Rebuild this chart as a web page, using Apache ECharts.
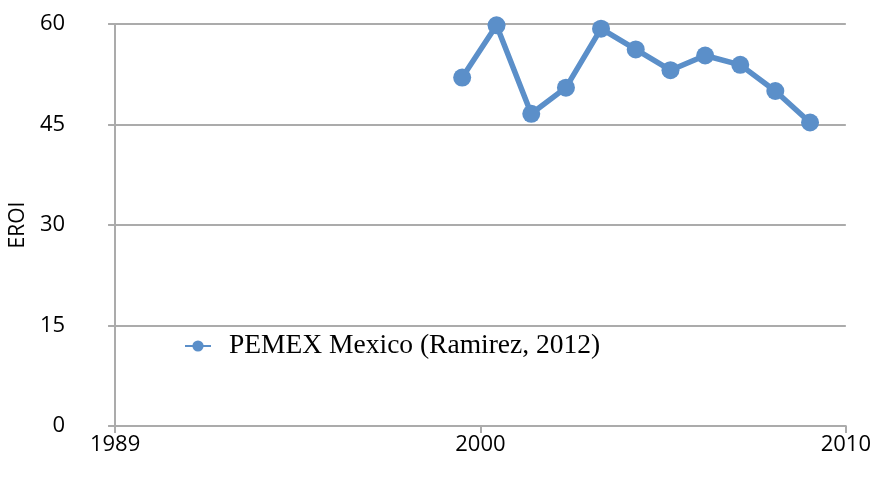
<!DOCTYPE html>
<html>
<head>
<meta charset="utf-8">
<script src="https://cdn.jsdelivr.net/npm/echarts@6/dist/echarts.min.js"></script>
<style>html,body{margin:0;padding:0;background:#fff}#c{width:874px;height:481px}</style>
</head>
<body>
<div id="c"></div>
<script>
// Data
const seriesName = "PEMEX Mexico (Ramirez, 2012)";
const years = [1999.5, 2000.44, 2001.39, 2002.34, 2003.3, 2004.25, 2005.2, 2006.15, 2007.11, 2008.07, 2009.02];
const eroi = [52.0, 59.8, 46.6, 50.5, 59.3, 56.2, 53.1, 55.3, 53.9, 50.0, 45.3];
const xTickLabels = ["1989", "2000", "2010"];
const yTicks = [0, 15, 30, 45, 60];

const chart = echarts.init(document.getElementById('c'), null, {renderer: 'canvas'});
const grey = '#ABABAB';
const sans = '"Open Sans", "Liberation Sans", sans-serif';
chart.setOption({
  animation: false,
  backgroundColor: '#fff',
  grid: {left: 113, right: 28, top: 24, bottom: 55, containLabel: false},
  legend: {
    left: 179, top: 327,
    itemWidth: 26, itemHeight: 14,
    data: [seriesName],
    textStyle: {fontFamily: '"Liberation Serif", serif', fontSize: 27.5, color: '#000', padding: [0, 0, 0, 13]}
  },
  xAxis: {
    type: 'value', min: 1990, max: 2010, interval: 10,
    axisLine: {show: true, lineStyle: {color: grey, width: 2}},
    axisTick: {show: true, length: 7, lineStyle: {color: grey, width: 2}},
    splitLine: {show: false},
    axisLabel: {
      margin: 8, fontSize: 22, color: '#000', fontFamily: sans,
      formatter: function (v) { return xTickLabels[Math.round((v - 1990) / 10)]; }
    }
  },
  yAxis: {
    type: 'value', min: yTicks[0], max: yTicks[yTicks.length - 1], interval: 15,
    name: 'EROI', nameLocation: 'middle', nameRotate: 90, nameGap: 84,
    nameTextStyle: {fontSize: 21, color: '#000', fontFamily: sans},
    axisLine: {show: true, lineStyle: {color: grey, width: 2}},
    axisTick: {show: true, length: 7, lineStyle: {color: grey, width: 2}},
    splitLine: {show: true, lineStyle: {color: grey, width: 2}},
    axisLabel: {margin: 50, fontSize: 22, color: '#000', fontFamily: sans}
  },
  series: [{
    name: seriesName, type: 'line',
    data: years.map((y, i) => [y, eroi[i]]),
    symbol: 'circle', symbolSize: 18,
    lineStyle: {width: 5.5, color: '#5B8FC9'},
    itemStyle: {color: '#5B8FC9'}
  }]
});
</script>
</body>
</html>
